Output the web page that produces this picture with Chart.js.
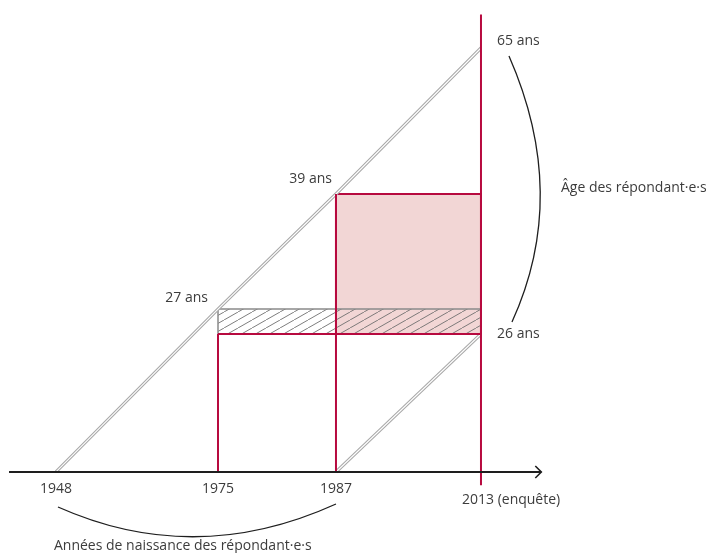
<!DOCTYPE html>
<html lang="fr">
<head>
<meta charset="utf-8">
<title>Diagramme de Lexis</title>
<script src="https://cdn.jsdelivr.net/npm/chart.js@4/dist/chart.umd.min.js"></script>
<style>
  html, body { margin: 0; padding: 0; background: #fff; }
  canvas { display: block; }
</style>
</head>
<body>
<canvas id="lexisChart" width="715" height="553"></canvas>
<script>
const cohortYears = [1948, 1975, 1987, 2013];   // plus ancienne cohorte
const cohortAges = [0, 27, 39, 65];
const youngYears = [1987, 2013];                // plus jeune cohorte
const youngAges = [0, 26];
const surveyYear = 2013;
const yearLabels = ["1948", "1975", "1987", "2013 (enquête)"];
const tickYears = [1948, 1975, 1987, 2013];
const ageLabels = ["65 ans", "39 ans", "27 ans", "26 ans"];
const pinkYears = [1987, 2013];
const pinkAges = [26, 39];
const hatchYears = [1975, 2013];
const hatchAges = [26, 27];
const axisYears = [1940.2, 2023.8];
const surveyLineAges = [-2.5, 71];

const RED = "#b70a3f";
const TEXT = "#3c3c3c";
const FONT = "14px 'Open Sans', 'Noto Sans', sans-serif";

// schéma non proportionnel : échelle linéaire par morceaux
class PiecewiseScale extends Chart.LinearScale {
    static id = "piecewise";
    static defaults = {};
    getPixelForValue(value) {
        const s = this.options.stops;
        let i = 1;
        while (i < s.length - 1 && value > s[i][0]) i++;
        const f = s[i - 1][1] + (value - s[i - 1][0]) / (s[i][0] - s[i - 1][0]) * (s[i][1] - s[i - 1][1]);
        return this.getPixelForDecimal(f);
    }
    getValueForPixel(pixel) {
        const s = this.options.stops;
        const f = this.getDecimalForPixel(pixel);
        let i = 1;
        while (i < s.length - 1 && f > s[i][1]) i++;
        return s[i - 1][0] + (f - s[i - 1][1]) / (s[i][1] - s[i - 1][1]) * (s[i][0] - s[i - 1][0]);
    }
}
Chart.register(PiecewiseScale);

function pts(xs, ys) {
    return xs.map((x, i) => ({ x: x, y: ys[i] }));
}
function box(xs, ys) {
    return [
        { x: xs[0], y: ys[0] }, { x: xs[0], y: ys[1] },
        { x: xs[1], y: ys[1] }, { x: xs[1], y: ys[0] }, { x: xs[0], y: ys[0] }
    ];
}

// motif hachuré
function hatchPattern() {
    const w = 14, h = 8;
    const c = document.createElement("canvas");
    c.width = w; c.height = h;
    const g = c.getContext("2d");
    g.strokeStyle = "#6f6f6f";
    g.lineWidth = 0.9;
    for (const dx of [-w, 0, w]) {
        g.beginPath();
        g.moveTo(dx, h);
        g.lineTo(dx + w, 0);
        g.stroke();
    }
    return g.createPattern(c, "repeat");
}

const line = (data, color, width, extra) => Object.assign({
    data: data,
    showLine: true,
    borderColor: color,
    borderWidth: width,
    pointRadius: 0,
    fill: false,
    tension: 0
}, extra || {});

const annotations = {
    id: "annotations",
    afterDatasetsDraw(chart) {
        const ctx = chart.ctx;
        const x = chart.scales.x, y = chart.scales.y;
        const y0 = y.getPixelForValue(0);
        ctx.save();

        // flèche de l'axe
        const tip = x.getPixelForValue(axisYears[1]);
        ctx.strokeStyle = "#1e1e1e";
        ctx.lineWidth = 1.6;
        ctx.beginPath();
        ctx.moveTo(tip - 6, y0 - 6);
        ctx.lineTo(tip, y0);
        ctx.lineTo(tip - 6, y0 + 6);
        ctx.stroke();

        ctx.font = FONT;
        ctx.fillStyle = TEXT;
        ctx.textBaseline = "middle";

        // années
        ctx.textAlign = "center";
        for (let i = 0; i < 3; i++) {
            ctx.fillText(yearLabels[i], x.getPixelForValue(tickYears[i]), y0 + 17);
        }
        ctx.textAlign = "left";
        ctx.fillText(yearLabels[3], x.getPixelForValue(surveyYear) - 19, y0 + 28);

        // âges
        const xs = x.getPixelForValue(surveyYear);
        ctx.fillText(ageLabels[0], xs + 16, y.getPixelForValue(65) - 7);
        ctx.fillText(ageLabels[3], xs + 16, y.getPixelForValue(26));
        ctx.textAlign = "right";
        ctx.fillText(ageLabels[1], x.getPixelForValue(1987) - 4, y.getPixelForValue(39) - 15);
        ctx.fillText(ageLabels[2], x.getPixelForValue(1975) - 10, y.getPixelForValue(27) - 11);

        // accolade des âges
        const top = y.getPixelForValue(65), bot = y.getPixelForValue(26);
        ctx.strokeStyle = "#1e1e1e";
        ctx.lineWidth = 1.3;
        ctx.beginPath();
        ctx.moveTo(xs + 28, top + 8);
        ctx.quadraticCurveTo(xs + 89, (top + bot) / 2 + 4, xs + 31, bot - 12);
        ctx.stroke();
        ctx.textAlign = "left";
        ctx.fillText("Âge des répondant·e·s", xs + 80, (top + bot) / 2 - 3);

        // accolade des années de naissance
        const xa = x.getPixelForValue(1948), xb = x.getPixelForValue(1987);
        ctx.beginPath();
        ctx.moveTo(xa + 2, y0 + 35);
        ctx.quadraticCurveTo(xa + 139, y0 + 96, xb, y0 + 32);
        ctx.stroke();
        ctx.fillText("Années de naissance des répondant·e·s", xa - 2, y0 + 74);

        ctx.restore();
    }
};

// Chart.js dessine le premier jeu de données au-dessus des autres
const layers = [
    line(box(pinkYears, pinkAges), RED, 2, { fill: "shape", backgroundColor: "#f2d6d5" }),
    line(box(hatchYears, hatchAges), "#8a8a8a", 1.5, { fill: "shape", backgroundColor: hatchPattern() }),
    line(pts(cohortYears, cohortAges), "#a8a8a8", 3.2),
    line(pts(cohortYears, cohortAges), "#ffffff", 1.1),
    line(pts(youngYears, youngAges), "#a8a8a8", 3.2),
    line(pts(youngYears, youngAges), "#ffffff", 1.1),
    line(pts([1975, 1975], [0, 26]), RED, 2),
    line(pts([1987, 1987], [0, 39]), RED, 2),
    line(pts(hatchYears, [26, 26]), RED, 2),
    line(pts([surveyYear, surveyYear], surveyLineAges), RED, 2),
    line(pts(axisYears, [0, 0]), "#1e1e1e", 2)
];

new Chart(document.getElementById("lexisChart"), {
    type: "scatter",
    data: {
        datasets: layers.reverse()
    },
    options: {
        responsive: false,
        animation: false,
        events: [],
        layout: { padding: 0 },
        plugins: {
            legend: { display: false },
            tooltip: { enabled: false }
        },
        scales: {
            x: {
                type: "piecewise",
                display: false,
                min: 1938.7,
                max: 2054.9,
                stops: [[1938.7, 0], [1948, 0.0783], [1975, 0.3049], [1987, 0.4699], [2013, 0.6727], [2054.9, 1]]
            },
            y: {
                type: "piecewise",
                display: false,
                min: -15.3,
                max: 73.6,
                stops: [[-15.3, 0], [0, 0.1465], [26, 0.3960], [27, 0.4412], [39, 0.6492], [65, 0.9132], [73.6, 1]]
            }
        }
    },
    plugins: [annotations]
});
</script>
</body>
</html>
